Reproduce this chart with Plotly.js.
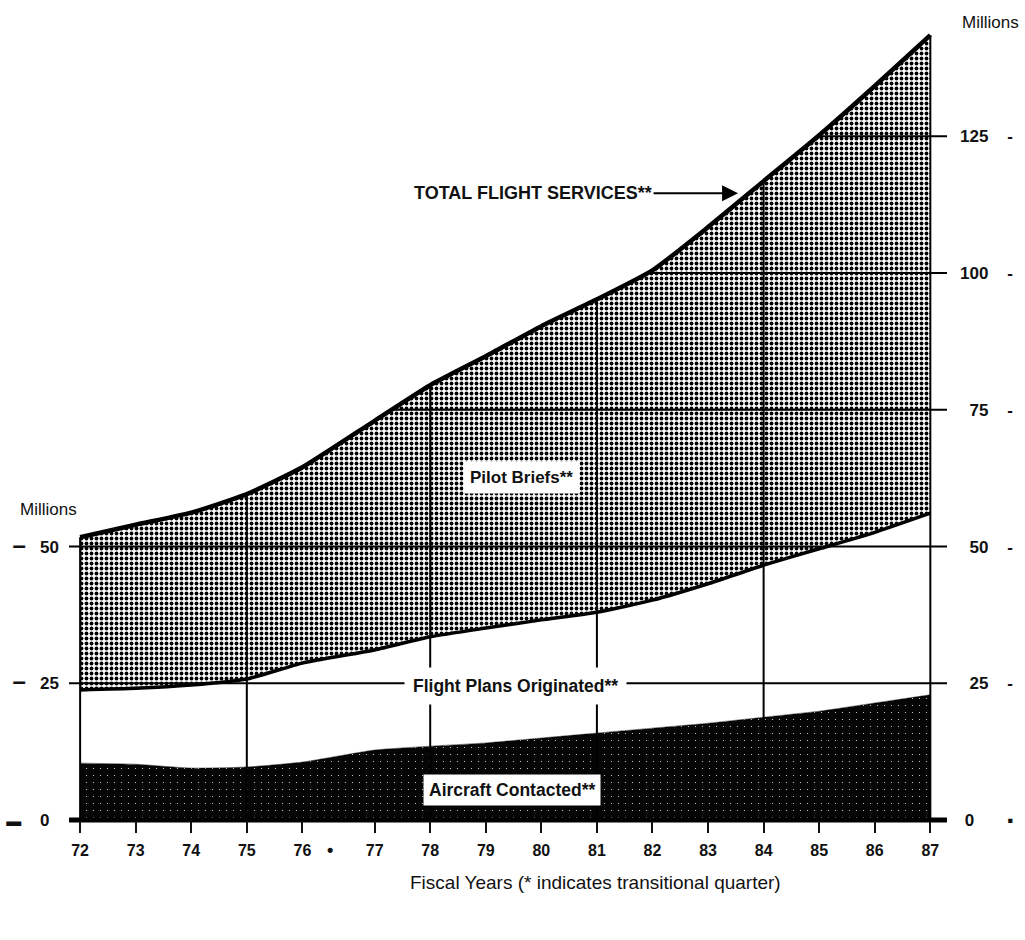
<!DOCTYPE html>
<html><head><meta charset="utf-8">
<script src="https://cdn.plot.ly/plotly-3.0.1.min.js"></script>
<style>html,body{margin:0;padding:0;background:#fff;}#chart{width:1025px;height:940px;}</style>
</head><body><div id="chart"></div>
<script>
// Fiscal years (a transitional quarter sits between FY76 and FY77)
const years = [72,73,74,75,76,77,78,79,80,81,82,83,84,85,86,87];
// Millions of services, by component (stacked bottom to top)
const aircraftContacted     = [10.4,10.2,9.5,9.7,10.6,12.8,13.5,14.1,15.0,15.9,16.8,17.7,18.8,19.9,21.4,22.9];
const flightPlansOriginated = [13.4,13.9,15.2,16.1,18.1,18.3,20.0,21.0,21.6,22.1,23.4,25.5,27.8,29.7,31.2,33.2];
const pilotBriefs           = [27.9,29.9,31.5,33.8,35.8,41.9,46.0,49.7,53.7,57.2,60.3,65.2,70.2,75.6,81.6,87.4];
// axis ticks
const leftTicks  = [0,25,50];
const rightTicks = [0,25,50,75,100,125];
const referenceYears = [72,75,78,81,84,87];

const FONT = 'Liberation Sans, Arial, Helvetica, sans-serif';
const TQ_SHIFT = 0.3;           // extra axis room taken by the transitional quarter
const TQ_MARK = 76.5;
const X_MIN = 71.8, X_MAX = 87.6;
const Y_MIN = -2, Y_MAX = 147;

const xpos = years.map(y => y >= 77 ? y + TQ_SHIFT : y);
const total = years.map((_, i) => aircraftContacted[i] + flightPlansOriginated[i] + pilotBriefs[i]);

function crossX(level) {
  if (total[0] >= level) return X_MIN;
  for (let i = 1; i < total.length; i++) {
    if (total[i - 1] < level && total[i] >= level) {
      return xpos[i - 1] + (level - total[i - 1]) / (total[i] - total[i - 1]) * (xpos[i] - xpos[i - 1]);
    }
  }
  return null;
}

const SPL = {shape: 'spline', smoothing: 0.5};
const traces = [
  {
    x: xpos, y: aircraftContacted, stackgroup: 'one', mode: 'lines',
    line: Object.assign({color: '#000', width: 0.5}, SPL),
    fillcolor: '#000',
    fillpattern: {shape: '.', bgcolor: '#050505', fgcolor: '#ffffff', fgopacity: 0.85, size: 7, solidity: 0.025},
    hoverinfo: 'skip', name: 'Aircraft Contacted'
  },
  {
    x: xpos, y: flightPlansOriginated, stackgroup: 'one', mode: 'lines',
    line: Object.assign({color: '#000', width: 3.5}, SPL),
    fillcolor: '#ffffff',
    hoverinfo: 'skip', name: 'Flight Plans Originated'
  },
  {
    x: xpos, y: pilotBriefs, stackgroup: 'one', mode: 'lines',
    line: Object.assign({color: '#000', width: 4.5}, SPL),
    fillcolor: '#ffffff',
    fillpattern: {shape: '.', bgcolor: '#ffffff', fgcolor: '#000000', size: 5, solidity: 0.45},
    hoverinfo: 'skip', name: 'Pilot Briefs'
  }
];

// reference grid inside the shaded region: one trace per segment
function seg(xs, ys, w) {
  traces.push({x: xs, y: ys, mode: 'lines', yaxis: 'y2', line: {color: '#000', width: w || 2}, hoverinfo: 'skip'});
}
[25, 50].forEach(v => seg([X_MIN, X_MAX], [v, v]));
rightTicks.filter(v => v > 50).forEach(v => {
  const x0 = crossX(v);
  if (x0 !== null) seg([x0, X_MAX], [v, v]);
});
referenceYears.forEach(yr => {
  const i = years.indexOf(yr);
  seg([xpos[i], xpos[i]], [0, total[i]]);
});
seg([X_MIN, X_MAX], [0, 0], 5);

const NB = '\u00a0', FS = '\u2007';
const DASH = '<span style="font-size:24px">\u2013</span>';
const layout = {
  width: 1025, height: 940,
  paper_bgcolor: '#fff', plot_bgcolor: '#fff',
  margin: {l: 69, r: 78, t: 16, b: 109},
  showlegend: false,
  font: {family: FONT, color: '#111'},
  xaxis: {
    range: [X_MIN, X_MAX], tickvals: xpos, ticktext: years.map(String),
    ticks: 'outside', ticklen: 12, tickwidth: 2, tickcolor: '#111',
    showgrid: false, zeroline: false, showline: false,
    anchor: 'free', position: 0.01342,
    tickfont: {family: FONT, size: 16, weight: 'bold', color: '#111'},
    ticklabelstandoff: 4
  },
  yaxis: {
    range: [Y_MIN, Y_MAX], tickvals: leftTicks,
    ticktext: leftTicks.map(v => (v === 0
      ? '<span style="font-size:15px">\u25AC</span>' + NB.repeat(4) + '0' + NB.repeat(2)
      : DASH + NB.repeat(3) + v)),
    showgrid: false, zeroline: false, showline: false, ticks: '',
    tickfont: {family: FONT, size: 17, weight: 'bold', color: '#111'},
    ticklabelstandoff: 9
  },
  yaxis2: {
    range: [Y_MIN, Y_MAX], overlaying: 'y', side: 'right', tickvals: rightTicks,
    ticktext: rightTicks.map(v => {
      const s = String(v);
      const pad = FS.repeat(3 - s.length);
      return v === 0 ? NB + '0' + NB.repeat(7) + '\u25AA' : pad + s + NB.repeat(4) + '-';
    }),
    showgrid: false, zeroline: false, showline: false, ticks: '',
    tickfont: {family: FONT, size: 17, weight: 'bold', color: '#111'},
    ticklabelstandoff: 12
  },
  annotations: [
    {xref: 'x', yref: 'paper', x: TQ_MARK, y: -0.0235, yanchor: 'middle', text: '<b>\u2022</b>', showarrow: false,
     font: {family: FONT, size: 18, color: '#111'}},
    {xref: 'paper', yref: 'paper', x: -0.058, y: 0.394, xanchor: 'left', yanchor: 'middle', text: 'Millions', showarrow: false,
     font: {family: FONT, size: 17, color: '#111'}},
    {xref: 'paper', yref: 'paper', x: 1.0148, y: 0.9926, xanchor: 'left', yanchor: 'middle', text: 'Millions', showarrow: false,
     font: {family: FONT, size: 17, color: '#111'}},
    {xref: 'paper', yref: 'paper', x: 0.600, y: -0.0627, xanchor: 'center', yanchor: 'middle',
     text: 'Fiscal Years (* indicates transitional quarter)', showarrow: false,
     font: {family: FONT, size: 19, color: '#111'}},
    {xref: 'x', yref: 'y', x: 83.84, y: 114.6, ax: -205, ay: 0, text: '<b>TOTAL FLIGHT SERVICES**</b>',
     showarrow: true, arrowhead: 2, arrowsize: 1.6, arrowwidth: 2, arrowcolor: '#000', standoff: 0,
     font: {family: FONT, size: 18, color: '#111'}},
    {xref: 'x', yref: 'y', x: 79.94, y: 62.7, text: '<b>Pilot Briefs**</b>', showarrow: false,
     bgcolor: '#fff', borderpad: 6, font: {family: FONT, size: 17, color: '#111'}},
    {xref: 'x', yref: 'y', x: 79.83, y: 24.6, text: '<b>Flight Plans Originated**</b>', showarrow: false,
     bgcolor: '#fff', borderpad: 8, font: {family: FONT, size: 17.5, color: '#111'}},
    {xref: 'x', yref: 'y', x: 79.78, y: 5.5, text: '<b>Aircraft Contacted**</b>', showarrow: false,
     bgcolor: '#fff', borderpad: 5, font: {family: FONT, size: 17.5, color: '#111'}}
  ]
};

Plotly.newPlot('chart', traces, layout, {displayModeBar: false, staticPlot: true});
</script>
</body></html>
